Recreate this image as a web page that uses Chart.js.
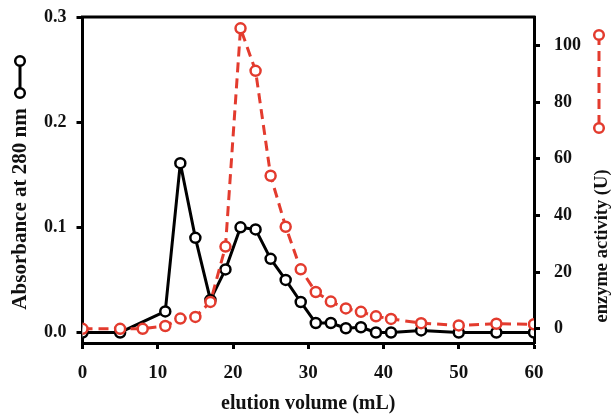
<!DOCTYPE html>
<html>
<head>
<meta charset="utf-8">
<script src="https://cdn.jsdelivr.net/npm/chart.js@4"></script>
<style>
  html, body { margin: 0; padding: 0; background: #fff; }
  #wrap { width: 612px; height: 416px; position: relative; }
</style>
</head>
<body>
<div id="wrap"><canvas id="elutionChart"></canvas></div>
<script>
// absorbance at 280 nm (left axis)
const absVolume = [0, 5, 11, 13, 15, 17, 19, 21, 23, 25, 27, 29, 31, 33, 35, 37, 39, 41, 45, 50, 55, 60];
const absorbance = [0, 0, 0.02, 0.161, 0.09, 0.031, 0.06, 0.1, 0.098, 0.07, 0.05, 0.029, 0.009, 0.009, 0.004, 0.005, 0, 0, 0.002, 0, 0, 0];

// enzyme activity in U (right axis)
const actVolume = [0, 5, 8, 11, 13, 15, 17, 19, 21, 23, 25, 27, 29, 31, 33, 35, 37, 39, 41, 45, 50, 55, 60];
const activity = [0, 0, 0, 1, 3.6, 4.2, 9.5, 29, 106, 91, 54, 36, 21, 13, 9.6, 7.2, 6, 4.4, 3.5, 2, 1.2, 1.8, 1.6];

const xTicks = [0, 10, 20, 30, 40, 50, 60];
const absTicks = [0, 0.1, 0.2, 0.3];
const actTicks = [0, 20, 40, 60, 80, 100];

const RED = '#e33b2e';
const FONT = 'Liberation Serif, Times New Roman, serif';
const tickFont = { family: FONT, size: 18, weight: 'bold' };

Chart.defaults.color = '#111';

// top frame line, both y titles (read bottom to top) and the little line/marker keys
const decor = {
  id: 'decor',
  afterDraw(chart) {
    const { ctx, chartArea } = chart;
    ctx.save();
    ctx.strokeStyle = '#000';
    ctx.lineWidth = 3;
    ctx.beginPath();
    ctx.moveTo(chartArea.left - 1.5, chartArea.top);
    ctx.lineTo(chartArea.right + 1.5, chartArea.top);
    ctx.stroke();
    ctx.restore();

    function vtitle(text, x, y, size) {
      ctx.save();
      ctx.translate(x, y);
      ctx.rotate(-Math.PI / 2);
      ctx.font = 'bold ' + size + 'px ' + FONT;
      ctx.fillStyle = '#111';
      ctx.textAlign = 'center';
      ctx.textBaseline = 'middle';
      ctx.fillText(text, 0, 0);
      ctx.restore();
    }
    vtitle('Absorbance at 280 nm', 21, 209, 21);
    vtitle('enzyme activity (U)', 602, 246, 18.5);

    function key(x, y1, y2, color, dash) {
      ctx.save();
      ctx.strokeStyle = color;
      ctx.lineWidth = 3;
      ctx.setLineDash(dash);
      ctx.beginPath();
      ctx.moveTo(x, y1);
      ctx.lineTo(x, y2);
      ctx.stroke();
      ctx.setLineDash([]);
      ctx.lineWidth = 2.5;
      ctx.fillStyle = '#fff';
      [y1, y2].forEach(y => {
        ctx.beginPath();
        ctx.arc(x, y, 4.8, 0, Math.PI * 2);
        ctx.fill();
        ctx.stroke();
      });
      ctx.restore();
    }
    key(20, 61, 93, '#000', []);
    key(599, 35, 128, RED, [10, 6]);
  }
};

// y axes: fixed widths and no extra vertical padding, so the frame sits where the layout says
function fitY(width) {
  return s => {
    s.width = width;
    s.paddingTop = 0;
    s.paddingBottom = 0;
  };
}

const ctx = document.getElementById('elutionChart').getContext('2d');
const chart = new Chart(ctx, {
  type: 'line',
  data: {
    datasets: [{
      label: 'Absorbance at 280 nm',
      data: absVolume.map((v, i) => ({ x: v, y: absorbance[i] })),
      yAxisID: 'y',
      borderColor: '#000',
      borderWidth: 3,
      borderJoinStyle: 'round',
      pointRadius: 5,
      pointBorderWidth: 2.5,
      pointBackgroundColor: '#fff',
      pointBorderColor: '#000',
      tension: 0,
      order: 2
    }, {
      label: 'enzyme activity (U)',
      data: actVolume.map((v, i) => ({ x: v, y: activity[i] })),
      yAxisID: 'y2',
      borderColor: RED,
      borderWidth: 3,
      borderDash: [10, 6],
      borderJoinStyle: 'round',
      pointRadius: 5,
      pointBorderWidth: 2.5,
      pointBackgroundColor: '#fff',
      pointBorderColor: RED,
      tension: 0,
      order: 1
    }]
  },
  options: {
    responsive: true,
    maintainAspectRatio: false,
    animation: false,
    layout: { padding: { top: 17, left: 0, right: 0, bottom: 0 } },
    plugins: { legend: { display: false }, tooltip: { enabled: false } },
    scales: {
      x: {
        type: 'linear',
        min: 0,
        max: 60,
        afterBuildTicks: s => { s.ticks = xTicks.map(v => ({ value: v })); },
        afterFit: s => { s.height = 73; },
        grid: { drawOnChartArea: false, tickLength: 6, tickWidth: 3, tickColor: '#000' },
        border: { color: '#000', width: 3 },
        ticks: { font: { family: FONT, size: 19, weight: 'bold' }, color: '#111', padding: 13, maxRotation: 0 },
        title: { display: true, text: 'elution volume (mL)', font: { family: FONT, size: 20, weight: 'bold' }, color: '#111', padding: { top: 0, bottom: 0 } }
      },
      y: {
        position: 'left',
        min: -0.01,
        max: 0.3,
        afterBuildTicks: s => { s.ticks = absTicks.map(v => ({ value: v })); },
        afterFit: fitY(82.5),
        grid: { drawOnChartArea: false, tickLength: 6, tickWidth: 3, tickColor: '#000' },
        border: { color: '#000', width: 3 },
        ticks: { font: tickFont, color: '#111', padding: 10, callback: v => v.toFixed(1) }
      },
      y2: {
        position: 'right',
        min: -5,
        max: 110,
        afterBuildTicks: s => { s.ticks = actTicks.map(v => ({ value: v })); },
        afterFit: fitY(78),
        grid: { drawOnChartArea: false, tickLength: 6, tickWidth: 3, tickColor: '#000' },
        border: { color: '#000', width: 3 },
        ticks: { font: tickFont, color: '#111', padding: 14 }
      }
    }
  },
  plugins: [decor]
});
</script>
</body>
</html>
